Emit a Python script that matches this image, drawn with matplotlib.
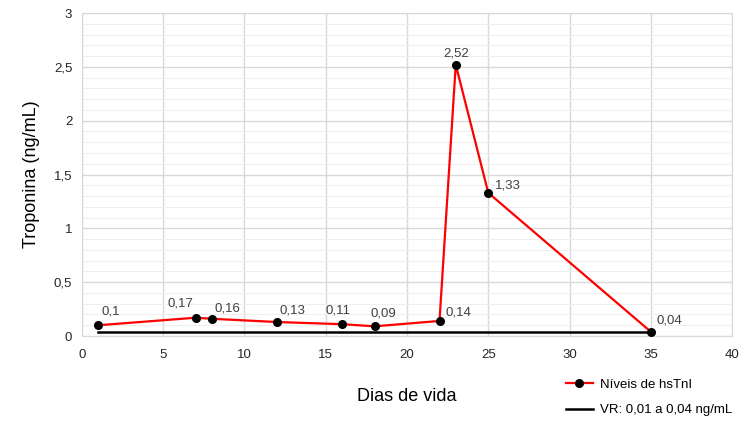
import matplotlib.pyplot as plt
import numpy as np

# dias de vida e niveis de troponina
dias = [1, 7, 8, 12, 16, 18, 22, 23, 25, 35]
hstni = [0.1, 0.17, 0.16, 0.13, 0.11, 0.09, 0.14, 2.52, 1.33, 0.04]
rotulos = ['0,1', '0,17', '0,16', '0,13', '0,11', '0,09', '0,14', '2,52', '1,33', '0,04']
vr_x = [1, 35]
vr_y = [0.04, 0.04]

plt.rcParams['font.family'] = ['Liberation Sans', 'DejaVu Sans']

fig = plt.figure(figsize=(7.44, 4.24), dpi=100)
ax = fig.add_axes([0.1102, 0.2075, 0.8737, 0.7618])

ax.plot(vr_x, vr_y, color='black', lw=1.8, label='VR: 0,01 a 0,04 ng/mL', zorder=3)
ax.plot(dias, hstni, color='#ff0000', lw=1.6, marker='o', ms=5.5, mfc='black', mec='black',
        label='Níveis de hsTnI', zorder=4)

# rotulos dos pontos
offs = {0: (2, 8), 1: (-20, 8), 2: (2, 5), 3: (2, 6), 4: (-12, 8), 5: (-3, 7),
        6: (4, 4), 7: (-9, 6), 8: (5, 3), 9: (4, 6)}
for i, (x, y) in enumerate(zip(dias, hstni)):
    dx, dy = offs[i]
    ax.annotate(rotulos[i], (x, y), xytext=(dx, dy), textcoords='offset points',
                fontsize=9.5, color='#404040')

ax.set_xlim(0, 40)
ax.set_ylim(0, 3)
ax.set_xticks(np.arange(0, 41, 5))
ax.set_yticks(np.arange(0, 3.01, 0.5))
ax.set_yticks(np.arange(0, 3.01, 0.1), minor=True)
ax.set_yticklabels(['0', '0,5', '1', '1,5', '2', '2,5', '3'])
ax.grid(True, which='major', color='#d9d9d9', lw=1)
ax.grid(True, which='minor', axis='y', color='#efefef', lw=0.8)
ax.set_axisbelow(True)
ax.tick_params(which='both', length=0, labelsize=9.5, labelcolor='#262626')
ax.tick_params(axis='x', pad=9)
ax.tick_params(axis='y', pad=7)
for s in ax.spines.values():
    s.set_color('#d9d9d9')

ax.set_xlabel('Dias de vida', fontsize=13, labelpad=20)
ax.set_ylabel('Troponina (ng/mL)', fontsize=13, labelpad=10)

h, l = ax.get_legend_handles_labels()
fig.legend(h[::-1], l[::-1], loc='upper left', bbox_to_anchor=(0.745, 0.135), frameon=False,
           fontsize=9.5, labelspacing=1.0, handlelength=2.0, handletextpad=0.55)

fig.savefig('out.png', dpi=100)
